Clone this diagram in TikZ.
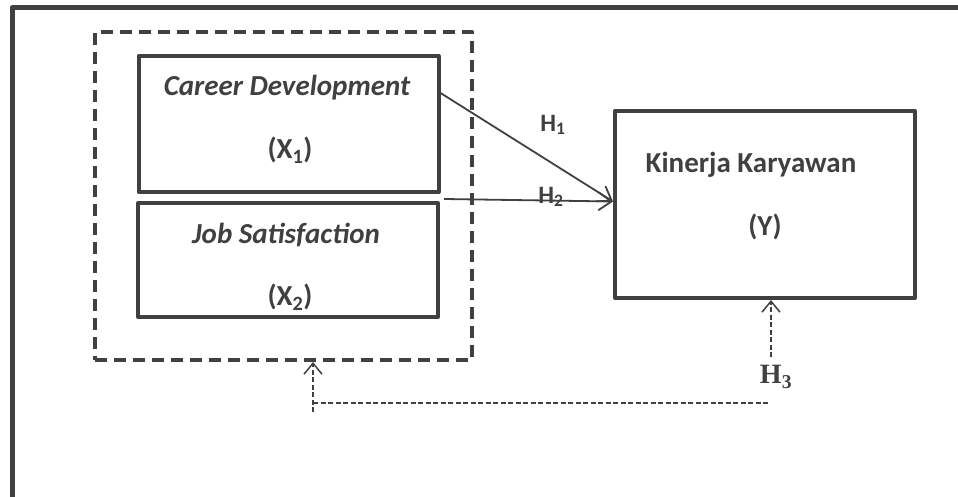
\documentclass[tikz,border=0pt]{standalone}
\usepackage{fontspec}
\setmainfont{Carlito}
\newfontfamily\timesfont{Liberation Serif}
\usetikzlibrary{arrows.meta}
\definecolor{ink}{HTML}{404040}

\begin{document}
\begin{tikzpicture}[x=1pt, y=-1pt, ink, line join=round,
  varbox/.style={draw, line width=4pt, minimum width=300pt, inner sep=0pt},
  lbl/.style={font=\fontsize{29}{32}\selectfont\bfseries},
  hyp/.style={font=\fontsize{25}{28}\selectfont\bfseries},
  path_arrow/.style={line width=1.8pt, -{Straight Barb[length=13pt,width=18pt,line width=1.8pt]}},
  test_line/.style={line width=1.5pt, dash pattern=on 5pt off 2.5pt},
  test_arrow/.style={test_line, -{Straight Barb[length=11pt,width=18pt,line width=1.5pt]}}]
\useasboundingbox (0,0) rectangle (958,497);
% frame
\draw[line width=5pt] (12,497) -- (12,8) -- (958,8);

% variables
\node[draw, line width=4pt, dash pattern=on 12pt off 7pt, minimum width=377pt, minimum height=328pt] (node_grp) at (283.5,196) {};
\node[varbox, minimum height=136pt] (node_x1) at (288.5,124) {};
\node[varbox, minimum height=114pt] (node_x2) at (288,260) {};
\node[varbox, minimum height=187pt] (node_y) at (765,204.5) {};

\node[lbl] (node_x1_name) at (287,88) {\itshape Career Development};
\node[lbl] (node_x1_sym) at (290,150) {(X\textsubscript{1})};
\node[lbl] (node_x2_name) at (286,235) {\itshape Job Satisfaction};
\node[lbl] (node_x2_sym) at (290,297) {(X\textsubscript{2})};
\node[lbl] (node_y_name) at (751,165) {Kinerja Karyawan};
\node[lbl] (node_y_sym) at (765,227) {(Y)};

% hypotheses
\draw[path_arrow] ([yshift=31pt]node_x1.east) -- ([yshift=3pt]node_y.west);
\draw[path_arrow] ([shift={(4pt,2pt)}]node_x2.north east) -- ([yshift=3pt]node_y.west);
\node[hyp] (node_h1) at (553,125) {H\textsubscript{1}};
\node[hyp] (node_h2) at (551,197) {H\textsubscript{2}};

\coordinate (c_left) at (313,412);
\coordinate (c_bend) at (313,403);
\coordinate (c_end) at (770,403);
\coordinate (c_right) at (771,357);
\draw[test_arrow] (c_left) -- (c_left |- node_grp.south);
\draw[test_line] (c_bend) -- (c_end);
\draw[test_arrow] (c_right) -- (c_right |- node_y.south);
\node[font=\timesfont\fontsize{28}{30}\selectfont\bfseries] (node_h3) at (776,377) {H\textsubscript{3}};

\end{tikzpicture}
\end{document}
